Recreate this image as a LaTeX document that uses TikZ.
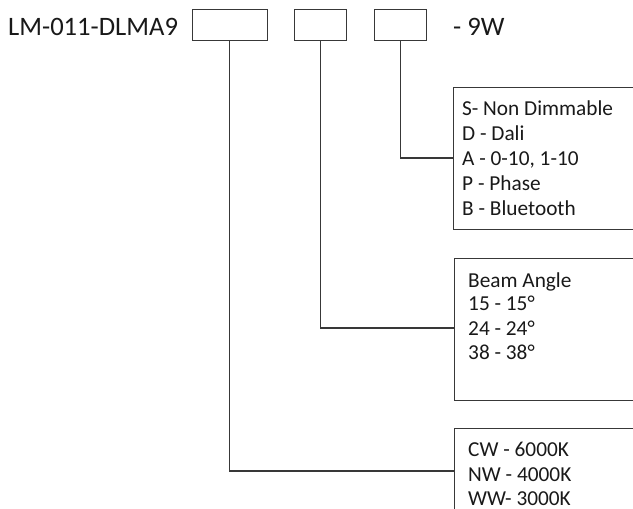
\documentclass[tikz,border=0pt]{standalone}
\usepackage{fontspec}
\setmainfont{Carlito}
\begin{document}
\begin{tikzpicture}[x=1pt,y=-1pt,
  ln/.style={draw=black!78,line width=1.2pt},
  codebox/.style={ln,rectangle,inner sep=0pt,anchor=north west},
  big/.style={font=\fontsize{26.6}{30}\selectfont,inner sep=0pt,anchor=base west,text=black!90},
  opt/.style={font=\fontsize{21.3}{25}\selectfont,inner sep=0pt,anchor=base west,text=black!90}]
\useasboundingbox (0,0) rectangle (633,509);
\clip (0,0) rectangle (633,509);
\node[big] (title) at (8,35.5) {LM-011-DLMA9};
\node[big] (watt) at (453,35.5) {- 9W};
\node[codebox,minimum width=75pt,minimum height=31pt] (b1) at (192,9) {};
\node[codebox,minimum width=52pt,minimum height=31pt] (b2) at (294,9) {};
\node[codebox,minimum width=52pt,minimum height=31pt] (b3) at (374,9) {};
\node[codebox,minimum width=260pt,minimum height=142pt] (dim) at (453,87) {};
\node[codebox,minimum width=260pt,minimum height=142pt] (beam) at (454,258) {};
\node[codebox,minimum width=260pt,minimum height=142pt] (cct) at (454,428) {};
\node[opt] (d1) at (462,115) {S- Non Dimmable};
\node[opt] (d2) at (462,140) {D - Dali};
\node[opt] (d3) at (462,165) {A - 0-10, 1-10};
\node[opt] (d4) at (462,190) {P - Phase};
\node[opt] (d5) at (462,215) {B - Bluetooth};
\node[opt] (e1) at (468,287) {Beam Angle};
\node[opt] (e2) at (468,310.5) {15 - 15°};
\node[opt] (e3) at (468,335) {24 - 24°};
\node[opt] (e4) at (468,359.5) {38 - 38°};
\node[opt] (c1) at (468,456.5) {CW - 6000K};
\node[opt] (c2) at (468,481.5) {NW - 4000K};
\node[opt] (c3) at (468,505.5) {WW- 3000K};
\coordinate (j3) at (453,158);
\coordinate (j2) at (454,328);
\coordinate (j1) at (454,471);
\draw[ln] ([xshift=-0.5pt]b3.south) |- (j3);
\draw[ln] (b2.south) |- (j2);
\draw[ln] ([xshift=-0.5pt]b1.south) |- (j1);
\end{tikzpicture}
\end{document}
